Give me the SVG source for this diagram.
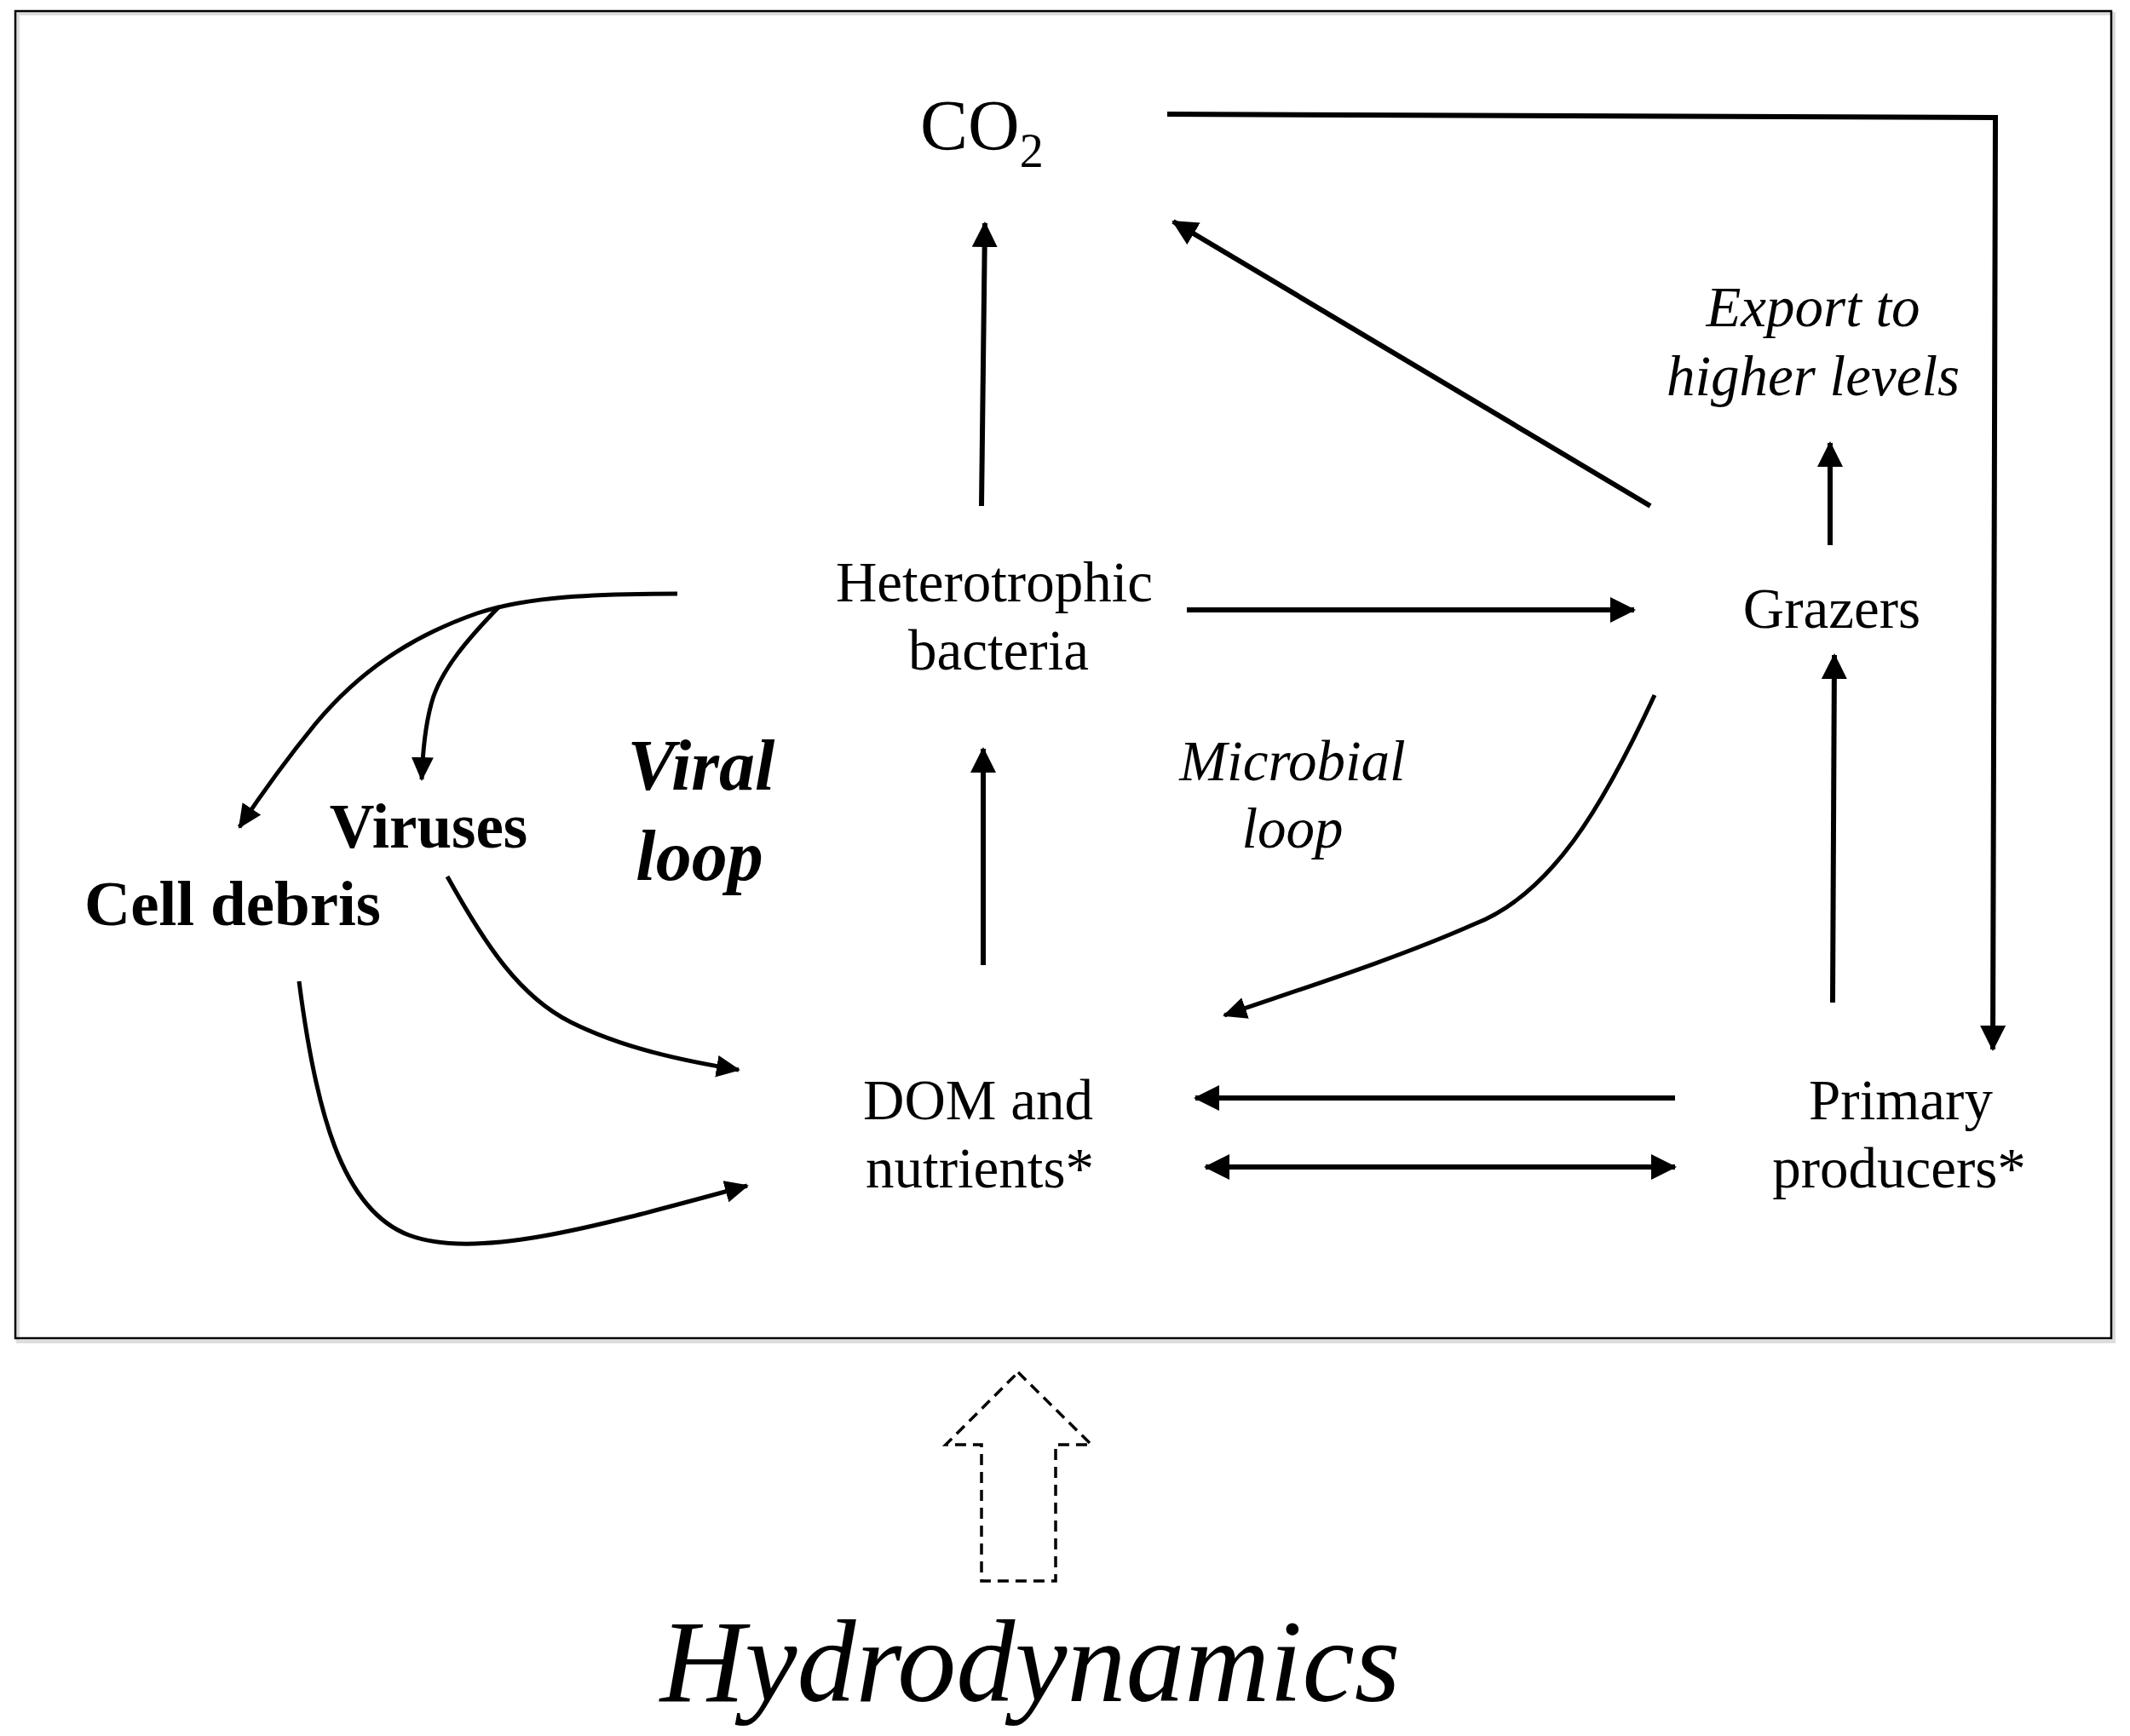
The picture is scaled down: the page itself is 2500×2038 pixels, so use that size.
<svg xmlns="http://www.w3.org/2000/svg" width="2500" height="2038" viewBox="0 0 2500 2038">
<style>
.t{font-family:"Liberation Serif","Times New Roman",serif;fill:#000}
.r{font-size:67px}
.i{font-size:67px;font-style:italic}
.b{font-weight:bold}
.c{fill:none;stroke:#000;stroke-linecap:butt}
.s{stroke-width:6}
.k{stroke-width:5}
</style>
<defs>
<marker id="ah" markerUnits="userSpaceOnUse" markerWidth="32" markerHeight="30" refX="28" refY="15" orient="auto">
<path d="M0,0 L30,15 L0,30 Z" fill="#000"/>
</marker>
<marker id="as" markerUnits="userSpaceOnUse" markerWidth="32" markerHeight="30" refX="28" refY="15" orient="auto-start-reverse">
<path d="M0,0 L30,15 L0,30 Z" fill="#000"/>
</marker>
<marker id="ak" markerUnits="userSpaceOnUse" markerWidth="30" markerHeight="26" refX="26" refY="13" orient="auto">
<path d="M0,0 L28,13 L0,26 Z" fill="#000"/>
</marker>
</defs>
<rect width="2500" height="2038" fill="#fff"/>
<rect x="21" y="16" width="2460" height="1559" fill="none" stroke="#ddd" stroke-width="4"/>
<rect x="18" y="13" width="2460" height="1558" fill="none" stroke="#000" stroke-width="2.5"/>

<g id="co2"><text class="t" x="1080" y="176" font-size="84">CO<tspan font-size="56" dy="20">2</tspan></text></g>
<g id="export"><text class="t i" x="2128" y="383" text-anchor="middle">Export to</text><text class="t i" x="2128" y="464" text-anchor="middle">higher levels</text></g>
<g id="heterotrophic"><text class="t r" x="1167" y="706" text-anchor="middle">Heterotrophic</text><text class="t r" x="1172" y="786" text-anchor="middle">bacteria</text></g>
<g id="grazers"><text class="t r" x="2150" y="737" text-anchor="middle">Grazers</text></g>
<g id="microbial"><text class="t i" x="1517" y="916" text-anchor="middle">Microbial</text><text class="t i" x="1517" y="995" text-anchor="middle">loop</text></g>
<g id="viral"><text class="t b" x="823" y="927" text-anchor="middle" font-size="84" font-style="italic">Viral</text><text class="t b" x="821" y="1033" text-anchor="middle" font-size="84" font-style="italic">loop</text></g>
<g id="viruses"><text class="t b" x="503" y="995" text-anchor="middle" font-size="73">Viruses</text></g>
<g id="celldebris"><text class="t b" x="273" y="1086" text-anchor="middle" font-size="75">Cell debris</text></g>
<g id="dom"><text class="t r" x="1148" y="1314" text-anchor="middle">DOM and</text><text class="t r" x="1150" y="1394" text-anchor="middle">nutrients*</text></g>
<g id="primary"><text class="t r" x="2231" y="1314" text-anchor="middle">Primary</text><text class="t r" x="2229" y="1394" text-anchor="middle">producers*</text></g>
<g id="hydro">
<path d="M1195,1611 L1281,1696 L1239,1696 L1239,1856 L1152,1856 L1152,1696 L1110,1696 Z" fill="#fff" stroke="#000" stroke-width="3.5" stroke-dasharray="13,8"/>
<text class="t" x="1209" y="1997" text-anchor="middle" font-size="138" font-style="italic">Hydrodynamics</text>
</g>

<g id="connectors">
<path class="c s" d="M1152,594 L1156,262" marker-end="url(#ah)"/>
<path class="c s" d="M1370,134 L2342,138 L2339,1232" marker-end="url(#ah)"/>
<path class="c s" d="M1937,594 L1377,260" marker-end="url(#ah)"/>
<path class="c s" d="M2148,640 L2148,520" marker-end="url(#ah)"/>
<path class="c s" d="M1393,716 L1918,716" marker-end="url(#ah)"/>
<path class="c s" d="M2151,1177 L2153,769" marker-end="url(#ah)"/>
<path class="c s" d="M1154,1133 L1154,879" marker-end="url(#ah)"/>
<path class="c s" d="M1966,1289 L1403,1289" marker-end="url(#ah)"/>
<path class="c s" d="M1415,1370 L1966,1370" marker-start="url(#as)" marker-end="url(#ah)"/>
<path class="c k" d="M1942,816 C1880,950 1820,1050 1730,1085 C1640,1125 1530,1160 1437,1192" marker-end="url(#ak)"/>
<path class="c k" d="M795,697 C700,697 620,700 560,720 C480,748 420,790 370,850 C335,893 305,935 281,971" marker-end="url(#ak)"/>
<path class="c k" d="M586,712 C552,747 516,787 506,827 C498,857 496,885 495,915" marker-end="url(#ak)"/>
<path class="c k" d="M525,1029 C570,1110 610,1170 670,1200 C730,1230 800,1245 867,1256" marker-end="url(#ak)"/>
<path class="c k" d="M351,1152 C370,1300 400,1420 480,1450 C560,1480 700,1440 877,1392" marker-end="url(#ak)"/>
</g>
</svg>
